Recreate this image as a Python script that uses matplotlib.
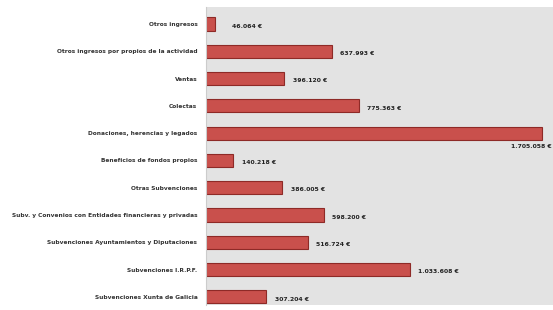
import matplotlib.pyplot as plt

categorias = [
    "Otros ingresos",
    "Otros ingresos por propios de la actividad",
    "Ventas",
    "Colectas",
    "Donaciones, herencias y legados",
    "Beneficios de fondos propios",
    "Otras Subvenciones",
    "Subv. y Convenios con Entidades financieras y privadas",
    "Subvenciones Ayuntamientos y Diputaciones",
    "Subvenciones I.R.P.F.",
    "Subvenciones Xunta de Galicia",
]
valores = [46064, 637993, 396120, 775363, 1705058, 140218,
           386005, 598200, 516724, 1033608, 307204]
etiquetas = ["46.064 €", "637.993 €", "396.120 €", "775.363 €", "1.705.058 €",
             "140.218 €", "386.005 €", "598.200 €", "516.724 €", "1.033.608 €",
             "307.204 €"]

fig = plt.figure(figsize=(5.53, 3.10), dpi=100)
ax = fig.add_axes([0.372, 0.016, 0.628, 0.961])
ax.set_facecolor("#e3e3e3")

pos = list(range(len(categorias)))
ax.barh(pos, valores, height=0.48, color="#c9504c", edgecolor="#8e2a27", linewidth=0.8)

xmax = 1.76e6
for p, v, t in zip(pos, valores, etiquetas):
    if v > 0.9 * xmax:
        ax.text(xmax * 0.995, p + 0.5, t, ha="right", va="center",
                fontsize=4.4, fontweight="bold", color="#222222")
    else:
        # small bars get their label a bit further out
        off = 0.05 if v < 100000 else 0.025
        ax.text(v + xmax * off, p + 0.08, t, ha="left", va="center",
                fontsize=4.4, fontweight="bold", color="#222222")

ax.set_xlim(0, xmax)
ax.set_ylim(10.3, -0.62)
ax.set_yticks(pos)
ax.set_yticklabels(categorias, fontsize=4.2, fontweight="bold", color="#333333")
ax.tick_params(axis="y", length=0, pad=6)
ax.set_xticks([])
for s in ["top", "right", "bottom"]:
    ax.spines[s].set_visible(False)
ax.spines["left"].set_color("#cccccc")

fig.savefig("out.png", dpi=100)
